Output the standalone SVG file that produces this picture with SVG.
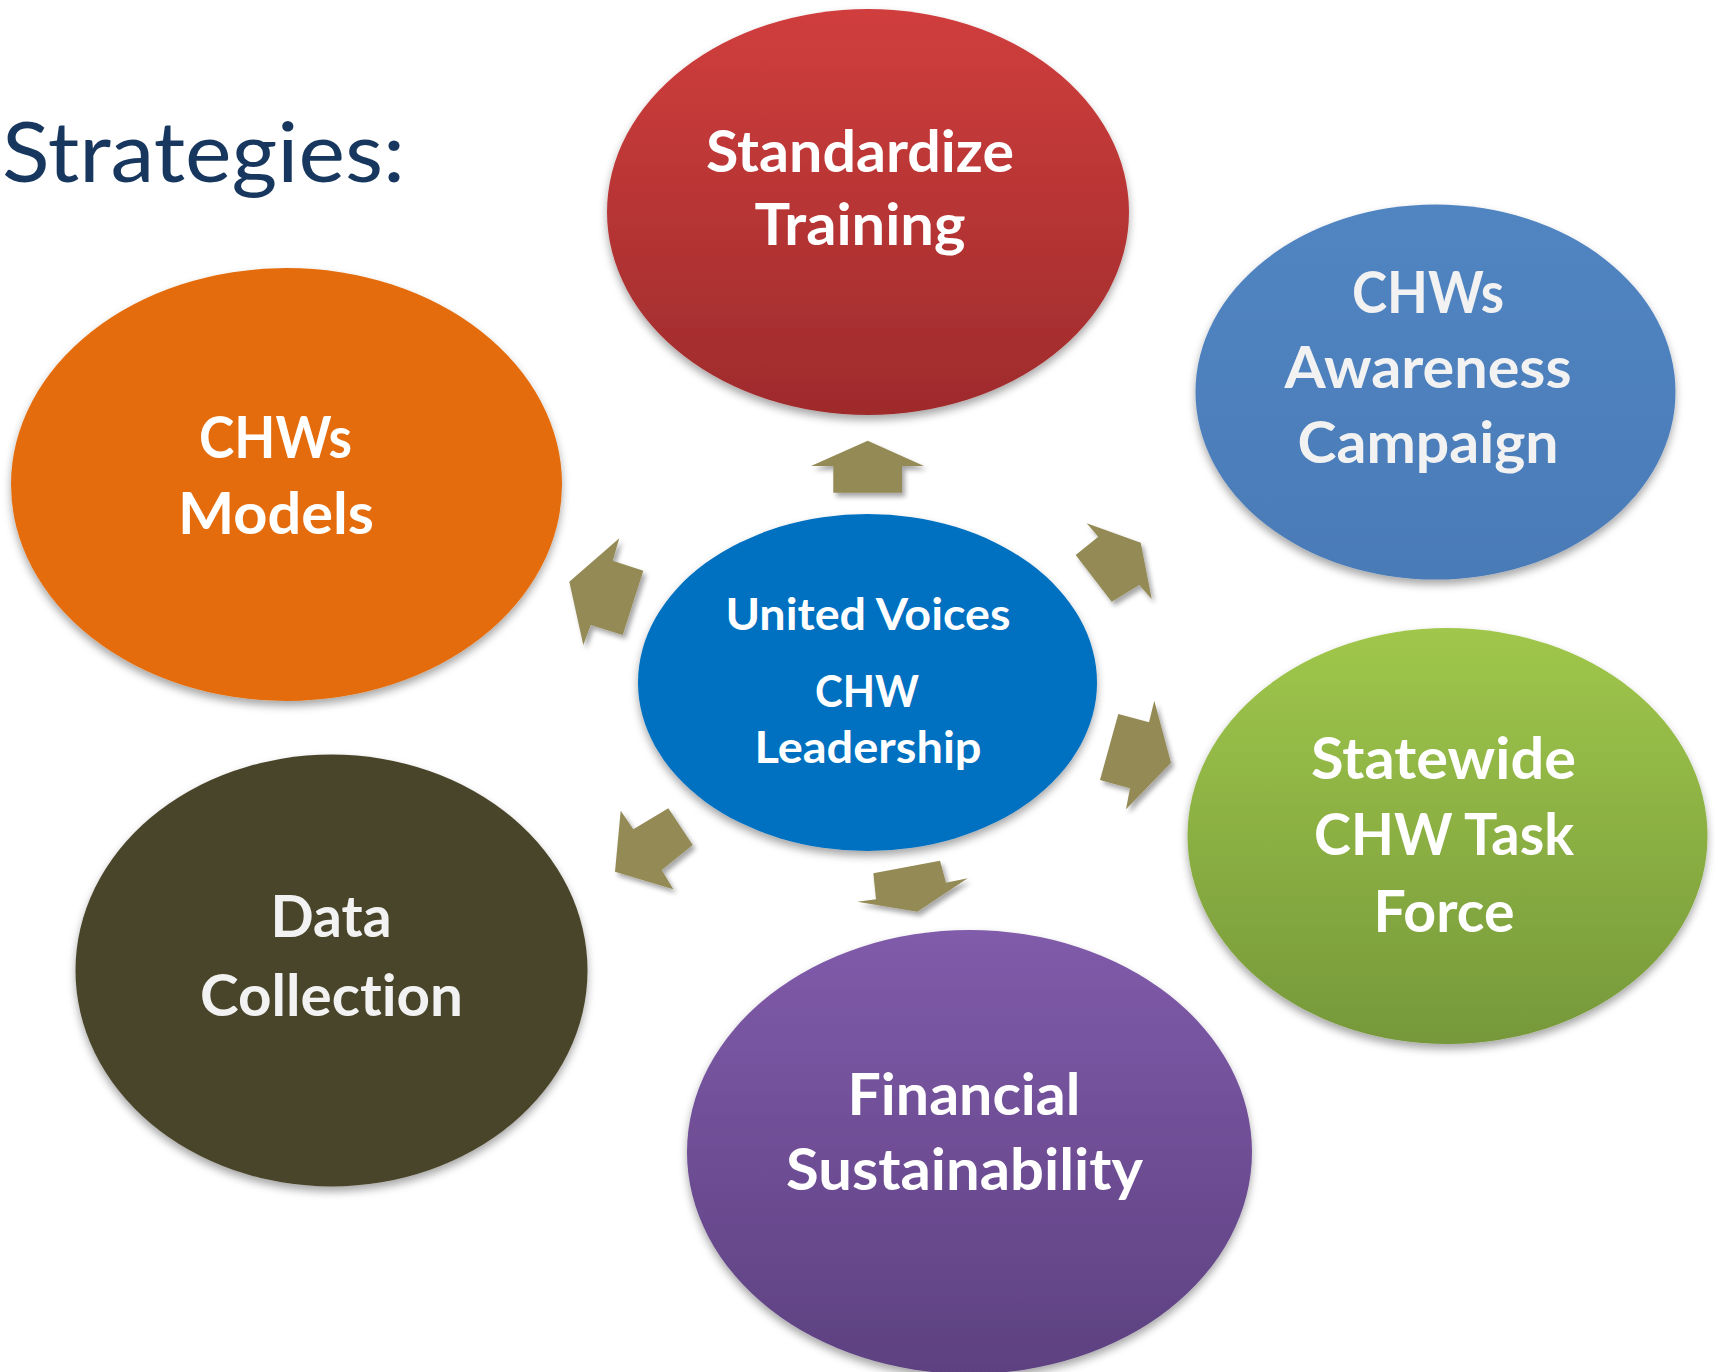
<svg xmlns="http://www.w3.org/2000/svg" width="1715" height="1372" viewBox="0 0 1715 1372">
<defs>
  <filter id="sh" x="-10%" y="-10%" width="120%" height="125%">
    <feDropShadow dx="0" dy="5" stdDeviation="4" flood-color="#000" flood-opacity="0.35"/>
  </filter>
  <filter id="ash" x="-20%" y="-20%" width="150%" height="150%">
    <feDropShadow dx="3" dy="4" stdDeviation="2.5" flood-color="#000" flood-opacity="0.35"/>
  </filter>
  <linearGradient id="gRed" x1="0" y1="0" x2="0" y2="1">
    <stop offset="0" stop-color="#D03E3D"/>
    <stop offset="1" stop-color="#9E2B2C"/>
  </linearGradient>
  <linearGradient id="gBlue" x1="0" y1="0" x2="0" y2="1">
    <stop offset="0" stop-color="#5185C2"/>
    <stop offset="1" stop-color="#4A7BB7"/>
  </linearGradient>
  <linearGradient id="gGreen" x1="0" y1="0" x2="0" y2="1">
    <stop offset="0" stop-color="#A0C74B"/>
    <stop offset="1" stop-color="#76983A"/>
  </linearGradient>
  <linearGradient id="gPurple" x1="0" y1="0" x2="0" y2="1">
    <stop offset="0" stop-color="#805BAA"/>
    <stop offset="1" stop-color="#5D4180"/>
  </linearGradient>
  <style>
    text{font-variant-ligatures:none}
    .lbl{font-family:Lato,"Open Sans","Liberation Sans",sans-serif;font-weight:bold;font-size:58px;fill:#FFFFFF;text-anchor:middle}
    .lbl2{fill:#F2F2F2}
    .ctr{font-family:Lato,"Open Sans","Liberation Sans",sans-serif;font-weight:bold;font-size:43px;fill:#FFFFFF;text-anchor:middle}
    .arr{fill:#948A54;filter:url(#ash)}
    .title{font-family:Lato,"Open Sans","Liberation Sans",sans-serif;font-size:84px;fill:#17375E}
  </style>
</defs>
<rect width="1715" height="1372" fill="#FFFFFF"/>

<text class="title" x="2" y="182" textLength="403" lengthAdjust="spacingAndGlyphs">Strategies:</text>

<g id="node-standardize">
  <ellipse cx="868" cy="212" rx="261" ry="203" fill="url(#gRed)" filter="url(#sh)"/>
  <text class="lbl" x="860" y="172" textLength="308" lengthAdjust="spacingAndGlyphs">Standardize</text>
  <text class="lbl" x="860" y="245" textLength="211" lengthAdjust="spacingAndGlyphs">Training</text>
</g>

<g id="node-awareness">
  <ellipse cx="1435.5" cy="392" rx="240" ry="187.5" fill="url(#gBlue)" filter="url(#sh)"/>
  <text class="lbl lbl2" x="1428" y="313" textLength="152" lengthAdjust="spacingAndGlyphs">CHWs</text>
  <text class="lbl lbl2" x="1428" y="388" textLength="287" lengthAdjust="spacingAndGlyphs">Awareness</text>
  <text class="lbl lbl2" x="1428" y="463" textLength="261" lengthAdjust="spacingAndGlyphs">Campaign</text>
</g>

<g id="node-models">
  <ellipse cx="286.5" cy="484.5" rx="275.5" ry="216.5" fill="#E46C0A" filter="url(#sh)"/>
  <text class="lbl" x="275.5" y="458" textLength="153" lengthAdjust="spacingAndGlyphs">CHWs</text>
  <text class="lbl" x="276" y="534" textLength="196" lengthAdjust="spacingAndGlyphs">Models</text>
</g>

<g id="node-taskforce">
  <ellipse cx="1447.5" cy="836" rx="260" ry="208" fill="url(#gGreen)" filter="url(#sh)"/>
  <text class="lbl" x="1443.5" y="779" textLength="265" lengthAdjust="spacingAndGlyphs">Statewide</text>
  <text class="lbl" x="1444" y="855" textLength="260" lengthAdjust="spacingAndGlyphs">CHW Task</text>
  <text class="lbl" x="1444" y="932" textLength="141" lengthAdjust="spacingAndGlyphs">Force</text>
</g>

<g id="node-data">
  <ellipse cx="331.5" cy="970.5" rx="256" ry="216" fill="#4A452A" filter="url(#sh)"/>
  <text class="lbl lbl2" x="331" y="937" textLength="121" lengthAdjust="spacingAndGlyphs">Data</text>
  <text class="lbl lbl2" x="331.5" y="1016" textLength="263" lengthAdjust="spacingAndGlyphs">Collection</text>
</g>

<g id="node-financial">
  <ellipse cx="969.5" cy="1152" rx="282.5" ry="222" fill="url(#gPurple)" filter="url(#sh)"/>
  <text class="lbl" x="964" y="1115" textLength="233" lengthAdjust="spacingAndGlyphs">Financial</text>
  <text class="lbl" x="964.5" y="1190" textLength="357" lengthAdjust="spacingAndGlyphs">Sustainability</text>
</g>

<g id="node-center">
  <ellipse cx="867.5" cy="682.5" rx="229.5" ry="168.5" fill="#0070C0" filter="url(#sh)"/>
  <text class="ctr" x="868" y="630" textLength="285" lengthAdjust="spacingAndGlyphs">United Voices</text>
  <text class="ctr" x="867" y="707" textLength="104" lengthAdjust="spacingAndGlyphs">CHW</text>
  <text class="ctr" x="868" y="763" textLength="227" lengthAdjust="spacingAndGlyphs">Leadership</text>
</g>

<g id="connectors">
  <polygon class="arr" points="867.7,440.7 924,466 902,466 902,492.7 833.3,492.7 833.3,466 811,466"/>
  <polygon class="arr" points="1086.7,523.3 1140.7,542.7 1151.7,599 1139.3,585 1111.7,601.7 1075.7,555 1098.3,536.7"/>
  <polygon class="arr" points="1154.3,700.7 1171,762.7 1126,809.3 1130,788.3 1100,780 1118.3,714 1149,722.3"/>
  <polygon class="arr" points="940,860.7 946,882.7 967.7,878.3 917.3,911.7 857.3,901.7 876,899.3 873.3,873.3"/>
  <polygon class="arr" points="668.3,808.3 692.7,845 661.7,870 673.3,889.3 615,871.7 620.7,810.7 633.3,829.3"/>
  <polygon class="arr" points="619.3,538.3 612.7,560.7 643.3,570.7 622.7,635 590.7,625 583.3,645 569.3,581.7"/>
</g>
</svg>
